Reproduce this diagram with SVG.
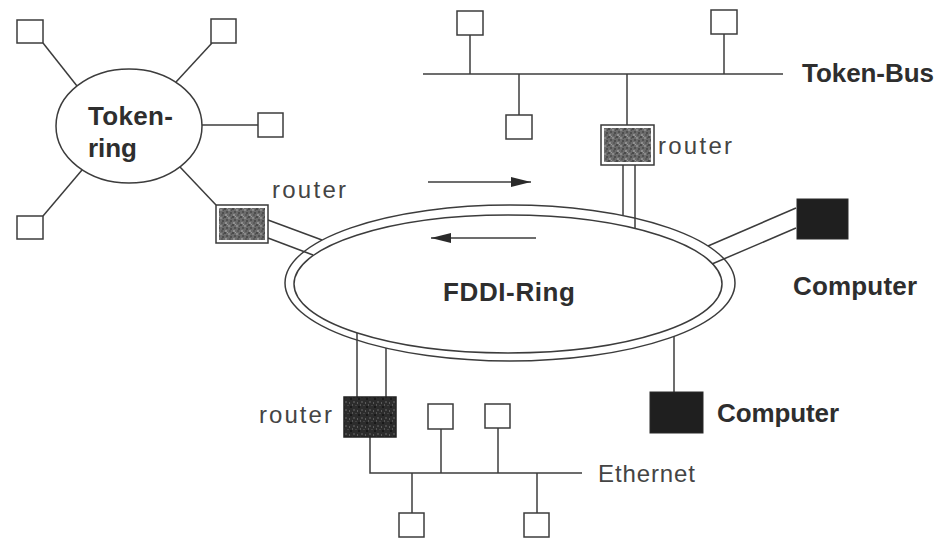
<svg xmlns="http://www.w3.org/2000/svg" width="936" height="538" viewBox="0 0 936 538">
<style>
.ln{stroke:#3c3c3c;stroke-width:1.5;fill:none}
.sq{fill:#fff;stroke:#3c3c3c;stroke-width:1.5}
.cmp{fill:#1f1f1f;stroke:#2a2a2a;stroke-width:1}
.b{font-family:"Liberation Sans",Arial,sans-serif;font-weight:bold;font-size:26px;fill:#2e2e2e}
.n{font-family:"Liberation Sans",Arial,sans-serif;font-size:24px;fill:#444}
</style>
<defs>
<pattern id="tex" width="8" height="8" patternUnits="userSpaceOnUse">
<rect width="8" height="8" fill="#6c6c6c"/>
<rect x="0" y="0" width="2" height="2" fill="#4a4a4a"/>
<rect x="4" y="1" width="2" height="2" fill="#8a8a8a"/>
<rect x="2" y="3" width="2" height="2" fill="#525252"/>
<rect x="6" y="4" width="2" height="2" fill="#4e4e4e"/>
<rect x="1" y="6" width="2" height="2" fill="#909090"/>
<rect x="5" y="6" width="2" height="2" fill="#5a5a5a"/>
<rect x="7" y="1" width="1" height="2" fill="#555"/>
<rect x="3" y="0" width="1" height="1" fill="#9a9a9a"/>
</pattern>
<pattern id="texd" width="8" height="8" patternUnits="userSpaceOnUse">
<rect width="8" height="8" fill="#2c2c2c"/>
<rect x="1" y="1" width="2" height="2" fill="#4a4a4a"/>
<rect x="5" y="2" width="1" height="2" fill="#5a5a5a"/>
<rect x="3" y="5" width="2" height="1" fill="#444"/>
<rect x="6" y="6" width="2" height="2" fill="#1a1a1a"/>
<rect x="0" y="4" width="1" height="2" fill="#555"/>
</pattern>
<marker id="ah" viewBox="0 0 20 10" refX="20" refY="5" markerWidth="20" markerHeight="10" markerUnits="userSpaceOnUse" orient="auto">
<path d="M0,0 L20,5 L0,10 Z" fill="#2a2a2a"/>
</marker>
</defs>

<g id="connectors">
<line class="ln" x1="43" y1="43" x2="77" y2="86"/>
<line class="ln" x1="212" y1="43" x2="176" y2="82"/>
<line class="ln" x1="202" y1="125" x2="258" y2="125"/>
<line class="ln" x1="43" y1="216" x2="82" y2="170"/>
<line class="ln" x1="180" y1="167" x2="216" y2="205"/>
<line class="ln" x1="268" y1="220" x2="322" y2="240"/>
<line class="ln" x1="268" y1="238" x2="313" y2="255"/>
<line class="ln" x1="423" y1="74" x2="783" y2="74"/>
<line class="ln" x1="470" y1="35" x2="470" y2="74"/>
<line class="ln" x1="724" y1="34" x2="724" y2="74"/>
<line class="ln" x1="519" y1="74" x2="519" y2="115"/>
<line class="ln" x1="627" y1="74" x2="627" y2="125"/>
<line class="ln" x1="623" y1="165" x2="623" y2="215"/>
<line class="ln" x1="635" y1="165" x2="635" y2="229"/>
<line class="ln" x1="796" y1="208" x2="708" y2="246"/>
<line class="ln" x1="796" y1="228" x2="712" y2="264"/>
<line class="ln" x1="674" y1="336" x2="674" y2="392"/>
<line class="ln" x1="357" y1="333" x2="357" y2="397"/>
<line class="ln" x1="386" y1="348" x2="386" y2="397"/>
<polyline class="ln" points="370,437 370,473 582,473"/>
<line class="ln" x1="441" y1="429" x2="441" y2="473"/>
<line class="ln" x1="498" y1="428" x2="498" y2="473"/>
<line class="ln" x1="412" y1="473" x2="412" y2="513"/>
<line class="ln" x1="537" y1="473" x2="537" y2="513"/>
<line class="ln" x1="428" y1="182" x2="531" y2="182" marker-end="url(#ah)"/>
<line class="ln" x1="536" y1="238" x2="431" y2="238" marker-end="url(#ah)"/>
</g>

<g id="token-ring">
<ellipse class="ln" cx="129" cy="126" rx="73" ry="57"/>
<text class="b" x="88" y="125" textLength="85" lengthAdjust="spacing">Token-</text>
<text class="b" x="88" y="157" textLength="49" lengthAdjust="spacing">ring</text>
</g>
<g id="tr-st1"><rect class="sq" x="17" y="20" width="26" height="23"/></g>
<g id="tr-st2"><rect class="sq" x="211" y="19" width="25" height="24"/></g>
<g id="tr-st3"><rect class="sq" x="258" y="113" width="25" height="24"/></g>
<g id="tr-st4"><rect class="sq" x="17" y="216" width="26" height="23"/></g>

<g id="fddi-ring">
<ellipse class="ln" cx="510" cy="283" rx="225" ry="78"/>
<ellipse class="ln" cx="508" cy="284" rx="214" ry="69"/>
<text class="b" x="443" y="301" textLength="132" lengthAdjust="spacing">FDDI-Ring</text>
</g>

<g id="router1">
<rect x="216" y="205" width="52" height="38" fill="#fff" stroke="#3a3a3a" stroke-width="1.5"/>
<rect x="219" y="208" width="46" height="32" fill="url(#tex)"/>
<text class="n" x="272" y="198" textLength="74" lengthAdjust="spacing">router</text>
</g>

<g id="token-bus">
<text class="b" x="802" y="82" textLength="132" lengthAdjust="spacing">Token-Bus</text>
</g>
<g id="tb-st1"><rect class="sq" x="457" y="11" width="26" height="24"/></g>
<g id="tb-st2"><rect class="sq" x="711" y="10" width="26" height="24"/></g>
<g id="tb-st3"><rect class="sq" x="506" y="115" width="26" height="24"/></g>

<g id="router2">
<rect x="601" y="125" width="53" height="40" fill="#fff" stroke="#3a3a3a" stroke-width="1.5"/>
<rect x="604" y="128" width="47" height="34" fill="url(#tex)"/>
<text class="n" x="658" y="154" textLength="74" lengthAdjust="spacing">router</text>
</g>

<g id="computer1">
<rect class="cmp" x="797" y="199" width="51" height="40"/>
<text class="b" x="793" y="295" textLength="124" lengthAdjust="spacing">Computer</text>
</g>

<g id="computer2">
<rect class="cmp" x="650" y="392" width="53" height="41"/>
<text class="b" x="717" y="422" textLength="122" lengthAdjust="spacing">Computer</text>
</g>

<g id="router3">
<rect x="344" y="397" width="52" height="40" fill="url(#texd)" stroke="#222" stroke-width="1.5"/>
<text class="n" x="259" y="423" textLength="73" lengthAdjust="spacing">router</text>
</g>

<g id="ethernet">
<text class="n" x="598" y="482" textLength="97" lengthAdjust="spacing">Ethernet</text>
</g>
<g id="eth-st1"><rect class="sq" x="428" y="404" width="25" height="25"/></g>
<g id="eth-st2"><rect class="sq" x="485" y="404" width="25" height="24"/></g>
<g id="eth-st3"><rect class="sq" x="399" y="513" width="25" height="24"/></g>
<g id="eth-st4"><rect class="sq" x="524" y="513" width="25" height="24"/></g>
</svg>
